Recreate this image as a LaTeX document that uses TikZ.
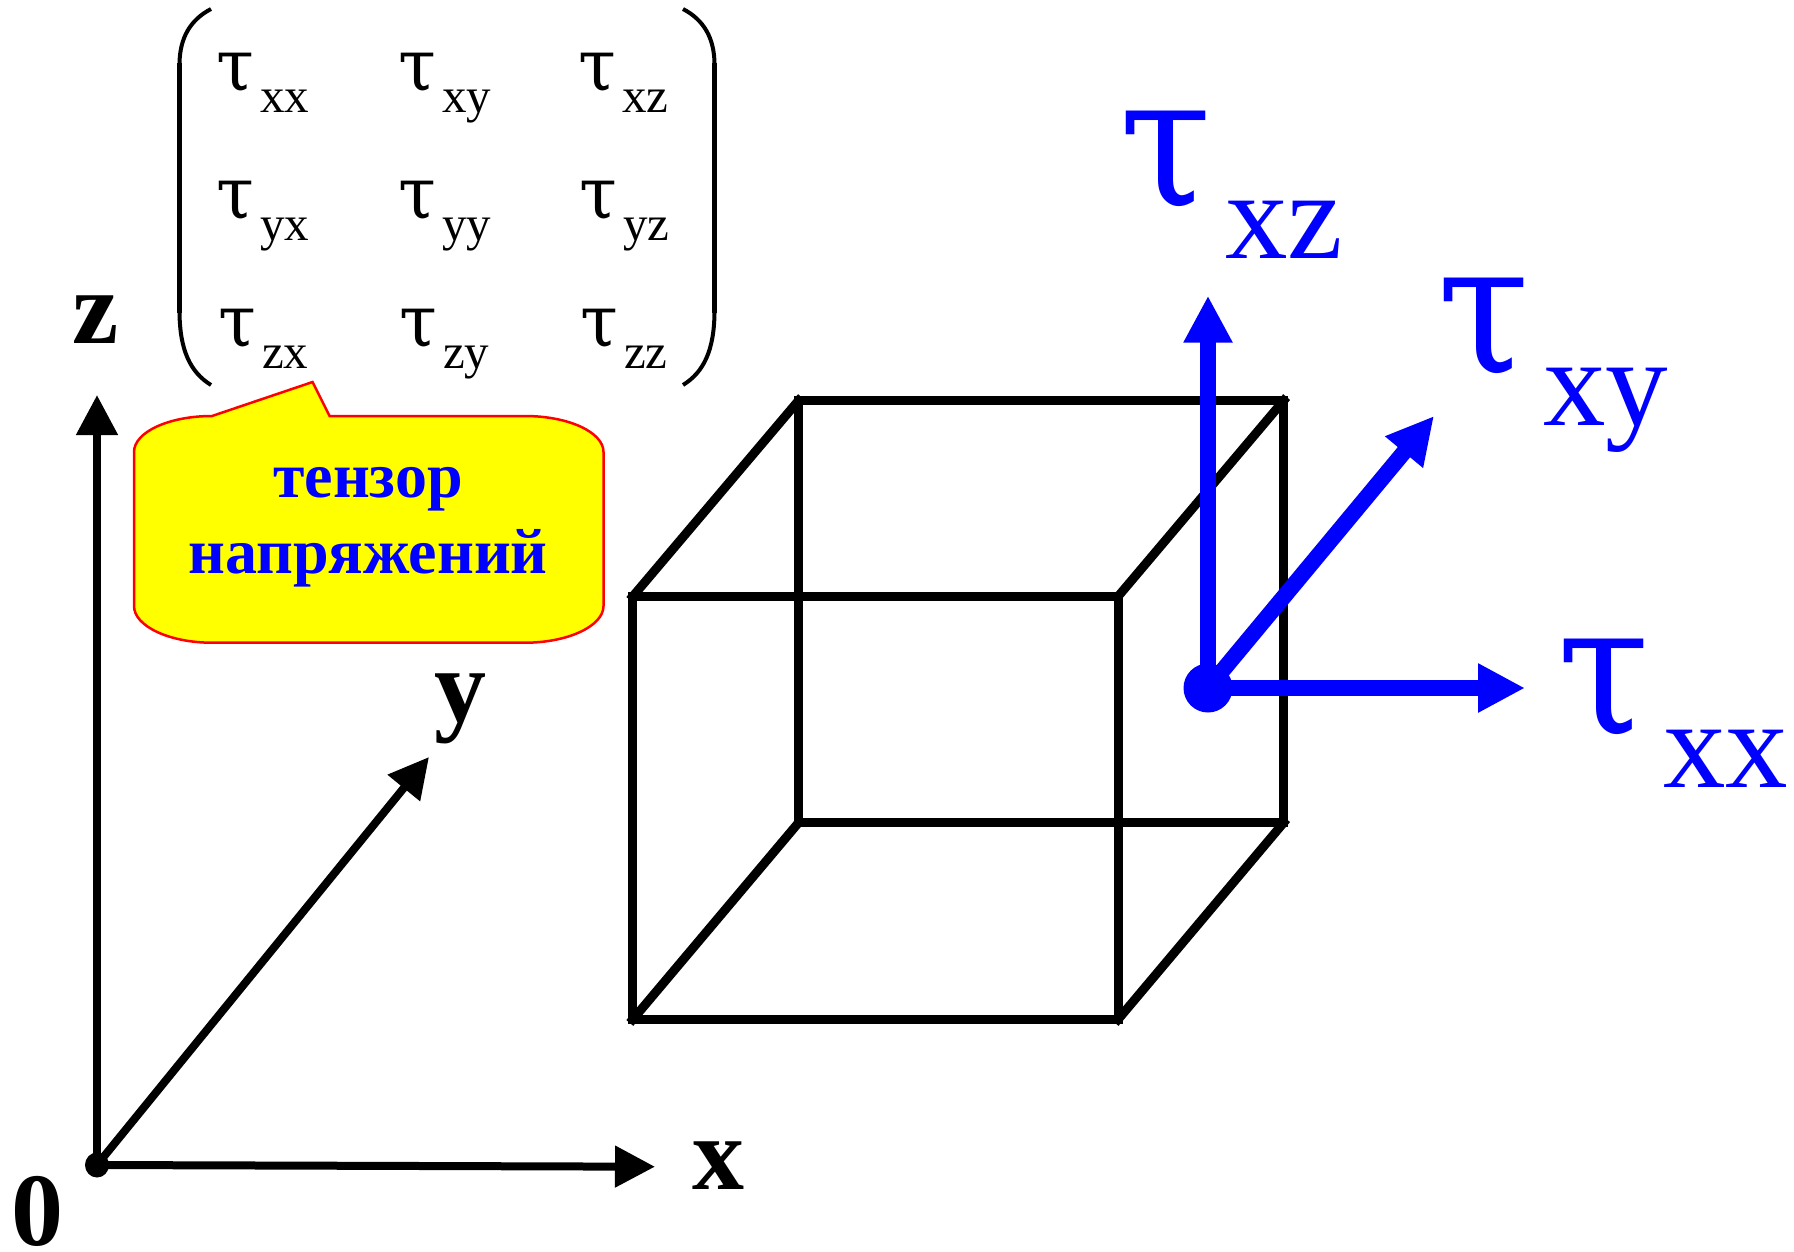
\documentclass[tikz,border=0pt]{standalone}
\usepackage{graphicx}
\usepackage{fontspec}
\setmainfont{Liberation Serif}
\newfontfamily\taufont{DejaVu Serif}
\usetikzlibrary{arrows.meta}
\definecolor{pureblue}{RGB}{0,0,255}
\definecolor{pureyellow}{RGB}{255,255,0}
\definecolor{purered}{RGB}{255,0,0}
\newcommand{\fsz}[1]{\fontsize{#1bp}{#1bp}\selectfont}
\newcommand{\smalltau}[1]{\makebox[41bp][l]{\hspace{-3bp}\raisebox{3bp}{\scalebox{.95}[1]{\taufont\fsz{72}τ}}}\raisebox{-19.5bp}{\fsz{49}#1}}
\newcommand{\bigtau}[1]{\makebox[102bp][l]{\hspace{-4bp}\raisebox{3.5bp}{\scalebox{.92}[1]{\taufont\fsz{182}τ}}}\raisebox{-50bp}{\fsz{125}#1}}
\tikzset{
  lab/.style={inner sep=0pt,outer sep=0pt,anchor=base west},
  axislab/.style={lab,font=\fsz{104}\bfseries},
  bubbletext/.style={inner sep=0pt,anchor=base,text=pureblue,font=\fsz{64}\bfseries},
  axisline/.style={line width=8bp,-{Triangle[length=40bp,width=40bp]}},
  stressline/.style={line width=16bp,pureblue,-{Triangle[length=47bp,width=46bp]}},
  edge/.style={line width=9bp,black,line cap=rect},
  brace/.style={line width=4bp,black},
  bubble/.style={fill=pureyellow,draw=purered,line width=2.5bp,line join=miter},
}
\begin{document}
\begin{tikzpicture}[x=1bp,y=-1bp]
\useasboundingbox (0,0) rectangle (1794,1251);
% matrix brackets
\draw[brace] (211,9) .. controls (190,20) and (180,38) .. (179.5,63);
\draw[line width=5bp] (179.5,63) -- (179.5,313);
\draw[brace] (179.5,313) .. controls (180,350) and (190,372) .. (211,385);
\draw[brace] (683,9) .. controls (704,20) and (714,38) .. (714.5,63);
\draw[line width=5bp] (714.5,63) -- (714.5,313);
\draw[brace] (714.5,313) .. controls (714,350) and (704,372) .. (683,385);
% matrix entries
\node[lab] (t11) at (219,93) {\smalltau{xx}};
\node[lab] (t12) at (401,93) {\smalltau{xy}};
\node[lab] (t13) at (581,93) {\smalltau{xz}};
\node[lab] (t21) at (219,221) {\smalltau{yx}};
\node[lab] (t22) at (401,221) {\smalltau{yy}};
\node[lab] (t23) at (582,221) {\smalltau{yz}};
\node[lab] (t31) at (221,349) {\smalltau{zx}};
\node[lab] (t32) at (402,349) {\smalltau{zy}};
\node[lab] (t33) at (583,349) {\smalltau{zz}};
% callout
\path[bubble] (212,416) -- (312.6,382) -- (329.6,416) -- (525,416)
  .. controls (568,416) and (603.5,432) .. (603.5,452) -- (603.5,606)
  .. controls (603.5,626) and (568,642.7) .. (525,642.7) -- (212,642.7)
  .. controls (169,642.7) and (134,626) .. (134,606) -- (134,452)
  .. controls (134,432) and (169,416) .. (212,416) -- cycle;
\node[bubbletext] (b1) at (368,497.5) {тензор};
\node[bubbletext] (b2) at (368,573) {напряжений};
% axes
\coordinate (o) at (97,1165);
\coordinate (zt) at (97,395);
\coordinate (xt) at (655,1166.7);
\coordinate (yt) at (429,757);
\draw[axisline] (o) -- (zt);
\draw[axisline] (o) -- (xt);
\draw[axisline] (o) -- (yt);
\fill[black] (o) ellipse[x radius=12,y radius=12.5];
\node[axislab] (zl) at (72,343) {z};
\node[axislab] (xl) at (692,1189) {x};
\node[axislab] (yl) at (434,721) {y};
\node[axislab,font=\fsz{104}\bfseries] (ol) at (11,1245) {0};
% cube
\coordinate (a) at (632.7,596.5);
\coordinate (b) at (1118,596.5);
\coordinate (c) at (1118,1019.5);
\coordinate (d) at (632.7,1019.5);
\coordinate (e) at (798.6,400.5);
\coordinate (f) at (1283.7,400.5);
\coordinate (g) at (1283.7,822.6);
\coordinate (h) at (798.6,822.6);
\draw[edge] (a) -- (b);
\draw[edge] (b) -- (c);
\draw[edge] (c) -- (d);
\draw[edge] (d) -- (a);
\draw[edge] (e) -- (f);
\draw[edge] (f) -- (g);
\draw[edge] (g) -- (h);
\draw[edge] (h) -- (e);
\draw[edge] (a) -- (e);
\draw[edge] (b) -- (f);
\draw[edge] (c) -- (g);
\draw[edge] (d) -- (h);
% stress vectors
\coordinate (s) at (1208,688);
\coordinate (sz) at (1208,295.7);
\coordinate (sx) at (1525,688);
\coordinate (sy) at (1434,416);
\draw[stressline] (s) -- (sz);
\draw[stressline] (s) -- (sx);
\draw[stressline] (s) -- (sy);
\fill[pureblue] (s) circle[radius=24.5];
\node[lab,text=pureblue] (lz) at (1123,208.5) {\bigtau{xz}};
\node[lab,text=pureblue] (ly) at (1441,375.6) {\bigtau{xy}};
\node[lab,text=pureblue] (lx) at (1561,737.4) {\bigtau{xx}};
\end{tikzpicture}
\end{document}
